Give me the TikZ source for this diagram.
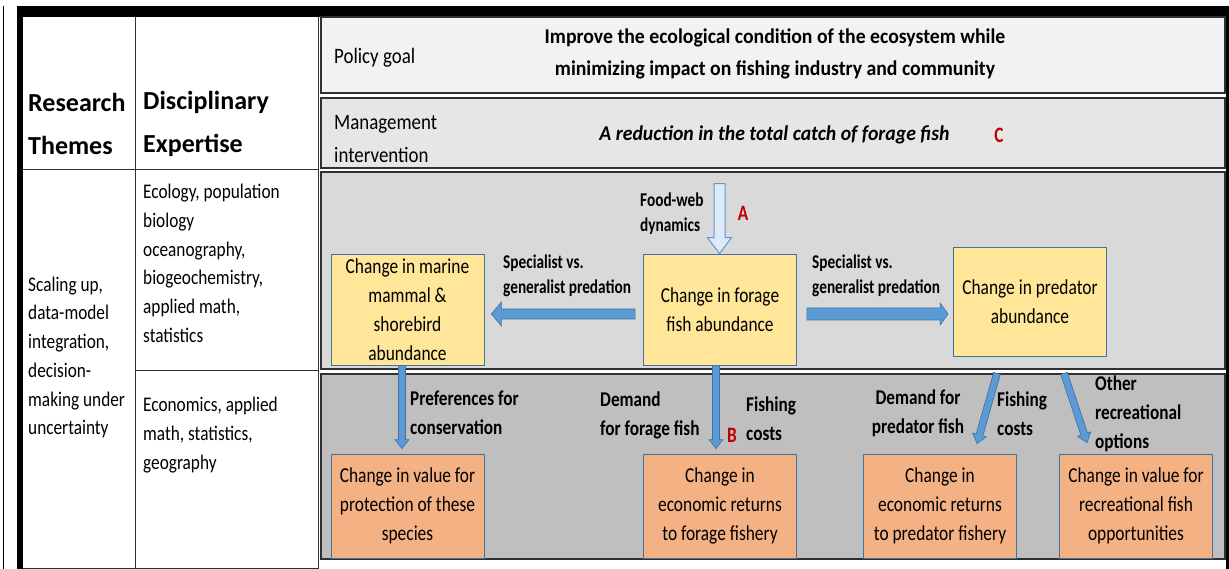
\documentclass[tikz,border=0pt]{standalone}
\usepackage{fontspec}
\usetikzlibrary{calc}
\setmainfont{Carlito}
\newfontfamily\FBox[FakeStretch=0.816]{Carlito}
\newfontfamily\FLab[FakeStretch=0.785]{Carlito}
\newfontfamily\FLabB[FakeStretch=0.82]{Carlito}
\newfontfamily\FRow[FakeStretch=0.86]{Carlito}
\newfontfamily\FCtr[FakeStretch=0.94]{Carlito}
\newfontfamily\FLeft[FakeStretch=0.83]{Carlito}
\newfontfamily\FHead{Carlito}
\definecolor{yel}{HTML}{FFE699}
\definecolor{sal}{HTML}{F4B183}
\definecolor{boxb}{HTML}{41719C}
\definecolor{arrf}{HTML}{5B9BD5}
\definecolor{lblue}{HTML}{DEEBF7}
\definecolor{redl}{HTML}{C00000}
\definecolor{rowA}{HTML}{F2F2F2}
\definecolor{rowB}{HTML}{E6E6E6}
\definecolor{rowC}{HTML}{D9D9D9}
\definecolor{rowD}{HTML}{BFBFBF}
\definecolor{rowline}{HTML}{303030}
\newcommand{\blkarrow}[6]{%
  \coordinate (tmpH) at ($(#3)!#6!(#2)$);
  \path[#1] ($(#2)!#4!90:(#3)$) -- ($(tmpH)!#4!-90:(#2)$) -- ($(tmpH)!#5!-90:(#2)$) -- (#3)
    -- ($(tmpH)!#5!90:(#2)$) -- ($(tmpH)!#4!90:(#2)$) -- ($(#2)!#4!-90:(#3)$) -- cycle;
}
\tikzset{
  rowbox/.style={draw=rowline, line width=1.4pt},
  tline/.style={draw=rowline, line width=1pt},
  boxtext/.style={inner sep=0pt, align=center, font=\FBox\fontsize{21.3}{29}\selectfont,
    minimum width=153pt, line width=0.8pt, draw=boxb},
  ybox/.style={boxtext, fill=yel, minimum height=111pt},
  sbox/.style={boxtext, fill=sal, minimum height=104pt},
  lab/.style={inner sep=0pt, align=left, font=\FLab\bfseries\fontsize{19.5}{25}\selectfont},
  lab2/.style={inner sep=0pt, align=left, font=\FLabB\bfseries\fontsize{21}{29}\selectfont},
  redlet/.style={inner sep=0pt, text=redl, font=\FLab\bfseries\fontsize{22}{26}\selectfont},
  blue arrow/.style={fill=arrf, draw=boxb, line width=0.6pt},
  hollow arrow/.style={fill=lblue, draw=arrf, line width=1pt},
  lefttext/.style={inner sep=0pt, align=left, font=\FLeft\fontsize{20.8}{28.7}\selectfont},
  headtext/.style={inner sep=0pt, align=left, font=\FHead\bfseries\fontsize{26}{43}\selectfont},
  rowlab/.style={inner sep=0pt, align=left, font=\FRow\fontsize{22}{33}\selectfont},
  ctrtext/.style={inner sep=0pt, align=center, font=\FCtr\bfseries\fontsize{21}{32}\selectfont},
}
\begin{document}
\begin{tikzpicture}[x=1pt,y=-1pt]
\path[fill=white] (0,0) rectangle (1229,569);
\useasboundingbox (0,0) rectangle (1229,569);
% ---- outer frame ----
\fill[black] (17,6) rectangle (1229,17);
\fill[black] (17,6) rectangle (23,569);
\draw[line width=1pt] (3.5,6) -- (3.5,569);
\fill[black] (1226,6) rectangle (1229,569);
% ---- left table ----
\draw[tline] (135,17) -- (135,569);
\draw[tline] (318,17) -- (318,569);
\draw[tline] (23,170) -- (318,170);
\draw[tline] (135,370) -- (318,370);
\draw[tline] (23,568) -- (318,568);
\node[headtext, anchor=west] (rt) at (28,124) {Research\\Themes};
\node[headtext, anchor=west] (de) at (143,124) {Disciplinary\\Expertise};
\node[lefttext, anchor=west] (su) at (28,357.5) {Scaling up,\\data-model\\integration,\\decision-\\making under\\uncertainty};
\node[lefttext, anchor=west] (eco) at (143,263.5) {Ecology, population\\biology\\oceanography,\\biogeochemistry,\\applied math,\\statistics};
\node[lefttext, anchor=west] (econ) at (143,435) {Economics, applied\\math, statistics,\\geography};
% ---- right rows ----
\path[rowbox, fill=rowA] (321,17) rectangle (1225,93);
\path[rowbox, fill=rowB] (321,98) rectangle (1225,168);
\path[rowbox, fill=rowC] (321,172) rectangle (1225,369);
\path[rowbox, fill=rowD] (321,374) rectangle (1225,559);
\node[rowlab, anchor=west] (pg) at (334,57.5) {Policy goal};
\node[rowlab, anchor=west] (mi) at (334,139) {Management\\intervention};
\node[ctrtext] (goal) at (775,54) {Improve the ecological condition of the ecosystem while\\minimizing impact on fishing industry and community};
\node[ctrtext, font=\FCtr\bfseries\itshape\fontsize{21}{32}\selectfont] (red) at (774.5,135) {A reduction in the total catch of forage fish};
\node[redlet] (C) at (999,135) {C};
% ---- ecology boxes ----
\node[ybox] (forage) at (720,309.5) {Change in forage\\fish abundance};
\node[ybox] (marine) at (407.5,309.5) {Change in marine\\mammal \&\\shorebird\\abundance};
\node[ybox, minimum height=109pt] (pred) at (1030,301.5) {Change in predator\\abundance};
% ---- economic boxes ----
\node[sbox] (val) at (407.5,506) {Change in value for\\protection of these\\species};
\node[sbox] (ret1) at (720,506) {Change in\\economic returns\\to forage fishery};
\node[sbox] (ret2) at (940,506) {Change in\\economic returns\\to predator fishery};
\node[sbox] (rec) at (1136,506) {Change in value for\\recreational fish\\opportunities};
% ---- arrows ----
\coordinate (fw0) at ($(forage.north)+(-0.5,-70)$);
\coordinate (fw1) at ($(forage.north)+(-0.5,0)$);
\blkarrow{hollow arrow}{fw0}{fw1}{5.5pt}{12pt}{16pt}
\coordinate (la0) at ($(forage.west)+(-8,4.5)$);
\coordinate (la1) at ($(marine.east)+(7,4.5)$);
\blkarrow{blue arrow}{la0}{la1}{5pt}{12pt}{10pt}
\coordinate (ra0) at ($(forage.east)+(10,4.5)$);
\coordinate (ra1) at ($(pred.west)+(-5,12.5)$);
\blkarrow{blue arrow}{ra0}{ra1}{6pt}{11pt}{8pt}
\coordinate (d10) at ($(marine.south)+(-5.5,0)$);
\coordinate (d11) at ($(val.north)+(-5.5,-5)$);
\blkarrow{blue arrow}{d10}{d11}{3.5pt}{7pt}{9pt}
\coordinate (d20) at ($(forage.south)+(-4,0)$);
\coordinate (d21) at ($(ret1.north)+(-4,-5)$);
\blkarrow{blue arrow}{d20}{d21}{3.5pt}{7pt}{9pt}
\coordinate (d30) at ($(pred.south)+(-33,17)$);
\coordinate (d31) at ($(ret2.north)+(37,-10)$);
\blkarrow{blue arrow}{d30}{d31}{3.5pt}{7pt}{9pt}
\coordinate (d40) at ($(pred.south)+(34,17)$);
\coordinate (d41) at ($(rec.north)+(-49,-11)$);
\blkarrow{blue arrow}{d40}{d41}{3.5pt}{7pt}{9pt}
% ---- labels ----
\node[lab, anchor=west] (fwl) at (640,213.5) {Food-web\\dynamics};
\node[redlet] (A) at (743,213) {A};
\node[lab, anchor=west] (sp1) at (503,275.5) {Specialist vs.\\generalist predation};
\node[lab, anchor=west] (sp2) at (812,275.5) {Specialist vs.\\generalist predation};
\node[lab2, anchor=west] (pc) at (410,412.5) {Preferences for\\conservation};
\node[lab2, anchor=west] (dff) at (600,415.5) {Demand\\for forage fish};
\node[lab2, anchor=west] (fc1) at (746,418.5) {Fishing\\costs};
\node[redlet] (B) at (732,435) {B};
\node[lab2, align=center] (dpf) at (918,413.5) {Demand for\\predator fish};
\node[lab2, anchor=west] (fc2) at (997,414) {Fishing\\costs};
\node[lab2, anchor=west] (oro) at (1095,414) {Other\\recreational\\options};
\end{tikzpicture}
\end{document}
